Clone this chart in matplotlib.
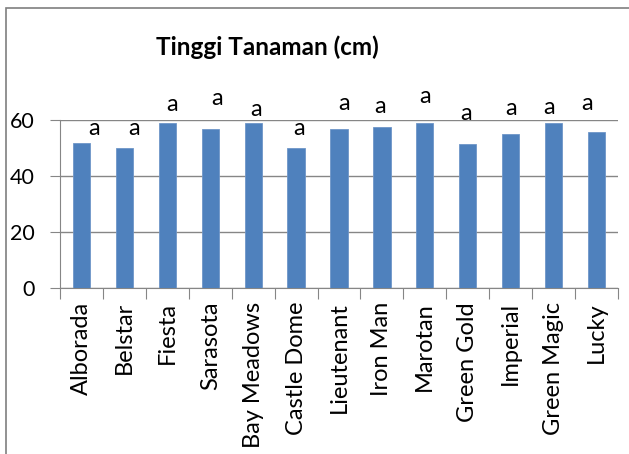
import matplotlib
matplotlib.use('Agg')
import matplotlib.pyplot as plt
from matplotlib.patches import Rectangle

# tinggi tanaman per varietas
varietas = ['Alborada', 'Belstar', 'Fiesta', 'Sarasota', 'Bay Meadows', 'Castle Dome',
            'Lieutenant', 'Iron Man', 'Marotan', 'Green Gold', 'Imperial', 'Green Magic', 'Lucky']
tinggi = [51.7, 49.9, 59.0, 56.8, 59.0, 50.0, 56.7, 57.6, 59.0, 51.3, 54.9, 59.0, 55.8]
notasi = ['a'] * 13
# letter boxes were placed by hand in the original
notasi_y = [57.0, 57.0, 65.4, 67.8, 63.8, 57.0, 66.0, 64.8, 68.3, 62.4, 64.2, 64.4, 66.0]
notasi_dx = [0.30, 0.23, 0.10, 0.16, 0.07, 0.07, 0.12, -0.04, 0.0, -0.04, 0.0, -0.10, -0.23]
yticks = [0, 20, 40, 60]

plt.rcParams['font.family'] = ['Lato', 'DejaVu Sans']

fig = plt.figure(figsize=(6.29, 4.54), dpi=100)
ax = fig.add_axes([60/629, 1 - 288/454, 558/629, 168/454])

x = list(range(len(varietas)))
ax.bar(x, tinggi, width=0.4, color='#4F81BD', edgecolor='#6f96c8', linewidth=0.6, zorder=3)
for i in x:
    ax.text(i + notasi_dx[i], notasi_y[i], notasi[i], ha='center', va='center',
            fontsize=17, clip_on=False)

ax.set_xlim(-0.5, len(varietas) - 0.5)
ax.set_ylim(0, 60)
ax.set_yticks(yticks)
ax.set_yticklabels([str(v) for v in yticks], fontsize=15.5)
ax.yaxis.grid(True, color='#868686', linewidth=1)
ax.set_axisbelow(True)

ax.set_xticks([i - 0.5 for i in x] + [len(varietas) - 0.5])
ax.set_xticklabels([])
ax.set_xticks(x, minor=True)
ax.set_xticklabels(varietas, minor=True, rotation=90, fontsize=17)
ax.tick_params(axis='x', which='major', length=8, color='#868686', direction='out')
ax.tick_params(axis='x', which='minor', length=0, pad=10)
ax.tick_params(axis='y', length=7, color='#868686', pad=11)

for s in ['top', 'right']:
    ax.spines[s].set_visible(False)
ax.spines['left'].set_color('#868686')
ax.spines['bottom'].set_color('#868686')

fig.text(0.5 * (157 + 377) / 629, 1 - 47/454, 'Tinggi Tanaman (cm)', ha='center', va='center',
         fontsize=17.5, fontweight='bold')

# chart border
fig.patches.append(Rectangle((6/629, -0.1), 1.2, 1 - 8/454 + 0.1, transform=fig.transFigure,
                             fill=False, edgecolor='#7f7f7f', linewidth=1.2))

fig.savefig('out.png', dpi=100)
